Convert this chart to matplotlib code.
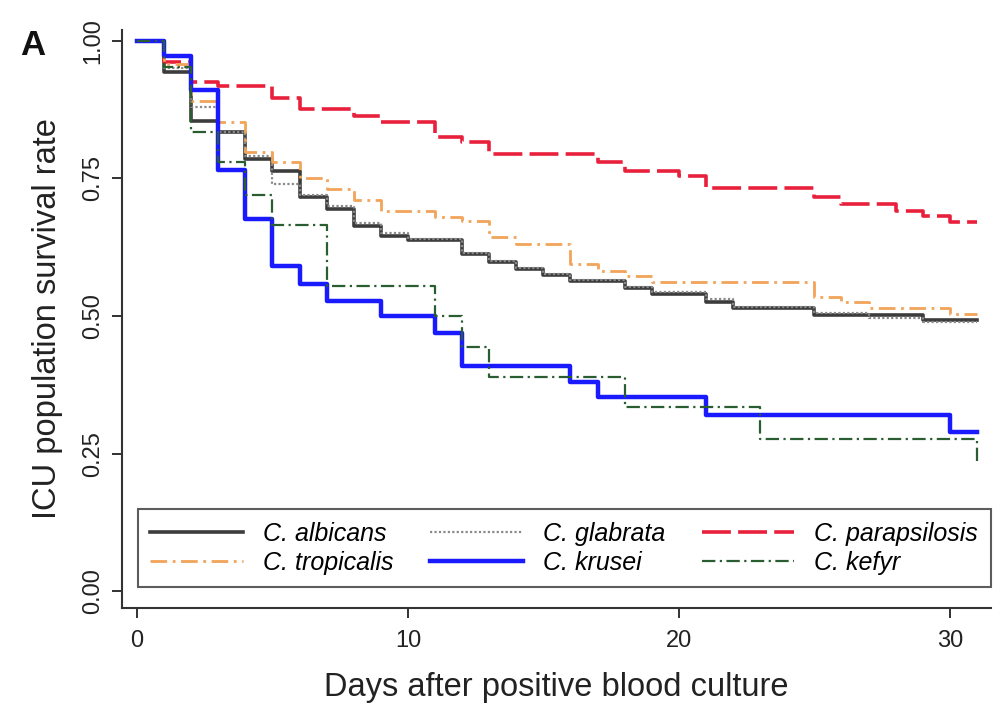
import matplotlib
matplotlib.use("Agg")
import matplotlib.pyplot as plt

plt.rcParams['font.family'] = ['Liberation Sans', 'DejaVu Sans']

# Kaplan-Meier step data (day of step, survival after step)
alb_days = [0, 1, 2, 3, 4, 5, 6, 7, 8, 9, 10, 12, 13, 14, 15, 16, 18, 19, 21, 22, 25, 29, 31]
alb_surv = [1.0, 0.944, 0.855, 0.835, 0.785, 0.764, 0.716, 0.695, 0.664, 0.645, 0.638, 0.612,
            0.598, 0.585, 0.574, 0.564, 0.55, 0.54, 0.526, 0.514, 0.502, 0.492, 0.492]

gla_days = [0, 1, 2, 3, 4, 5, 6, 7, 8, 9, 10, 12, 13, 14, 15, 16, 18, 19, 21, 22, 25, 27, 29, 31]
gla_surv = [1.0, 0.95, 0.88, 0.835, 0.79, 0.74, 0.72, 0.70, 0.668, 0.65, 0.64, 0.615, 0.60,
            0.588, 0.576, 0.566, 0.553, 0.543, 0.53, 0.517, 0.505, 0.497, 0.49, 0.49]

par_days = [0, 1, 2, 3, 5, 6, 8, 9, 11, 12, 13, 17, 18, 20, 21, 25, 26, 28, 29, 30, 31]
par_surv = [1.0, 0.962, 0.925, 0.918, 0.896, 0.876, 0.864, 0.853, 0.825, 0.816, 0.795, 0.78,
            0.764, 0.755, 0.733, 0.716, 0.704, 0.69, 0.682, 0.671, 0.671]

tro_days = [0, 1, 2, 3, 4, 5, 6, 7, 8, 9, 11, 12, 13, 14, 16, 17, 18, 19, 25, 26, 27, 30, 31]
tro_surv = [1.0, 0.958, 0.89, 0.853, 0.798, 0.78, 0.75, 0.73, 0.71, 0.69, 0.68, 0.673, 0.643,
            0.63, 0.595, 0.582, 0.573, 0.562, 0.534, 0.525, 0.514, 0.504, 0.504]

kru_days = [0, 1, 2, 3, 4, 5, 6, 7, 9, 11, 12, 16, 17, 21, 30, 31]
kru_surv = [1.0, 0.973, 0.91, 0.765, 0.676, 0.59, 0.558, 0.528, 0.50, 0.47, 0.41, 0.38,
            0.353, 0.32, 0.29, 0.29]

kef_days = [0, 1, 2, 3, 4, 5, 7, 11, 12, 13, 18, 23, 31]
kef_surv = [1.0, 0.953, 0.835, 0.78, 0.72, 0.666, 0.555, 0.50, 0.443, 0.39, 0.335, 0.276, 0.23]

fig = plt.figure(figsize=(9.96, 7.06), dpi=100)
ax = fig.add_axes([0.1225, 0.139, 0.872, 0.819])

l_alb, = ax.step(alb_days, alb_surv, where='post', color='#3c3c3c', lw=2.6)
l_gla, = ax.step(gla_days, gla_surv, where='post', color='#8a8a8a', lw=1.6, ls=(0, (1, 1)))
l_par, = ax.step(par_days, par_surv, where='post', color='#e8203c', lw=2.6, ls=(0, (8, 2)))
l_tro, = ax.step(tro_days, tro_surv, where='post', color='#f2a45a', lw=2.0, ls=(0, (6, 2, 1, 2)))
l_kru, = ax.step(kru_days, kru_surv, where='post', color='#1a1aff', lw=3.2)
l_kef, = ax.step(kef_days, kef_surv, where='post', color='#2a5e30', lw=1.6, ls=(0, (6, 2, 1, 2)))

ax.set_xlim(-0.55, 31.5)
ax.set_ylim(-0.03, 1.02)
ax.set_xticks([0, 10, 20, 30])
ax.set_yticks([0, 0.25, 0.5, 0.75, 1.0])
ax.set_yticklabels(['0.00', '0.25', '0.50', '0.75', '1.00'], rotation=90, va='center')
ax.tick_params(direction='out', length=7, width=1.3, labelsize=17, colors='#222222')
ax.tick_params(axis='x', pad=9)
ax.tick_params(axis='y', pad=6)
for side in ['top', 'right']:
    ax.spines[side].set_visible(False)
for side in ['left', 'bottom']:
    ax.spines[side].set_linewidth(1.5)
    ax.spines[side].set_color('#333333')

ax.set_xlabel('Days after positive blood culture', fontsize=23.5, color='#222222', labelpad=14)
ax.set_ylabel('ICU population survival rate', fontsize=23.5, color='#222222', labelpad=14)

handles = [l_alb, l_tro, l_gla, l_kru, l_par, l_kef]
labels = ['C. albicans', 'C. tropicalis', 'C. glabrata', 'C. krusei', 'C. parapsilosis', 'C. kefyr']
leg = ax.legend(handles, labels, ncol=3, loc='lower left', mode='expand',
                bbox_to_anchor=(0.018, 0.036, 0.982, 0.137), borderaxespad=0,
                fancybox=False, edgecolor='#333333', handlelength=3.7, handletextpad=0.8,
                prop={'style': 'italic', 'size': 18}, labelspacing=0.2, borderpad=0.5)
leg.get_frame().set_linewidth(1.5)

fig.text(0.02, 0.922, 'A', fontsize=25, fontweight='bold', color='#111111', va='baseline')

fig.savefig('out.png', dpi=100, facecolor='white')
